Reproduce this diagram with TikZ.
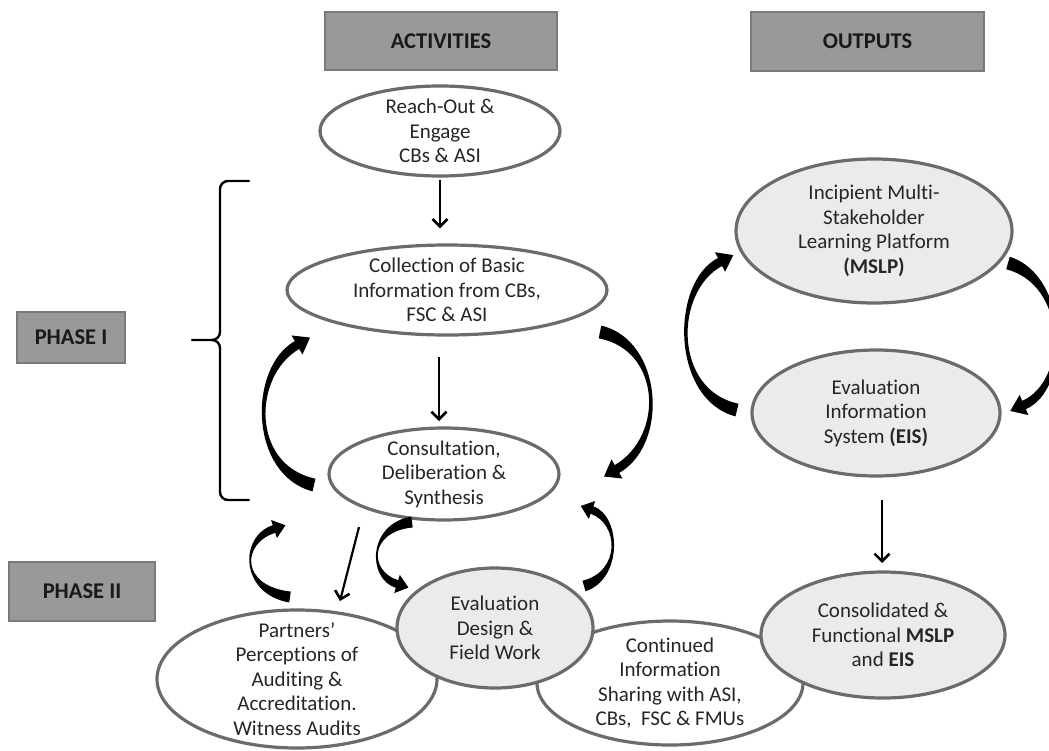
\documentclass[tikz,border=0pt]{standalone}
\usepackage{fontspec}
\setmainfont{Carlito}[Ligatures=NoCommon]
\usetikzlibrary{shapes.geometric,calc,arrows.meta}
\definecolor{hdrfill}{HTML}{999999}
\definecolor{hdrline}{HTML}{7A7A7A}
\definecolor{ellline}{HTML}{6B6B6B}
\definecolor{ellfill}{HTML}{EBEBEB}
\definecolor{txt}{HTML}{262626}
% tapered curved arrow: tail, ctrl1, ctrl2, head base, tail half-width, ctrl half-width, head-base half-width, head half-width, head length
\newcommand\mycarrow[9]{%
  \fill[black] ($(#1)!#5pt!90:(#2)$) .. controls ($(#2)!#6pt!-90:(#1)$) and ($(#3)!#6pt!90:(#4)$) ..
    ($(#4)!#7pt!-90:(#3)$) -- ($(#4)!#8pt!-90:(#3)$) -- ($(#4)!-#9pt!(#3)$) -- ($(#4)!#8pt!90:(#3)$) --
    ($(#4)!#7pt!90:(#3)$) .. controls ($(#3)!#6pt!-90:(#4)$) and ($(#2)!#6pt!90:(#1)$) ..
    ($(#1)!#5pt!-90:(#2)$) -- cycle;}
\begin{document}
\begin{tikzpicture}[x=1pt,y=-1pt,
  hdr/.style={draw=hdrline, line width=1.5pt, fill=hdrfill, inner sep=0pt,
    font=\fontsize{22.5}{26}\selectfont\bfseries, text=black!90},
  ell/.style={ellipse, draw=ellline, line width=3.2pt, fill=white, inner sep=0pt},
  ellg/.style={ell, fill=ellfill},
  elltext/.style={align=center, text=txt, inner sep=0pt, font=\fontsize{21}{24.5}\selectfont},
  thinarrow/.style={-{Straight Barb[length=7.5pt,width=15pt,line width=2.6pt]}, line width=2.6pt, black},
  bracestyle/.style={line width=2.4pt, black, line cap=round}]
\useasboundingbox (0,0) rectangle (1049,750);

% header boxes
\node[hdr, minimum width=232pt, minimum height=58pt] (act) at (441,41) {ACTIVITIES};
\node[hdr, minimum width=233pt, minimum height=59pt] (out) at (867.5,41.5) {OUTPUTS};
\node[hdr, minimum width=108pt, minimum height=51pt] (ph1) at (71,337.5) {PHASE I};
\node[hdr, minimum width=146pt, minimum height=59pt] (ph2) at (82,591.5) {PHASE II};

% brace
\draw[bracestyle] (249,181) -- (228,181) to[out=180,in=90] (220,189) -- (220,332)
  to[out=-90,in=0] (212,340) -- (192,340);
\draw[bracestyle] (212,340) to[out=0,in=90] (220,348) -- (220,492)
  to[out=-90,in=180] (228,500) -- (249,500);

% activity ellipses
\node[ell, minimum width=240pt, minimum height=90pt] (reach) at (440,131) {};
\node[elltext] (reachT) at (reach) {Reach-Out \&\\Engage\\CBs \& ASI};
\node[ell, minimum width=320pt, minimum height=90pt] (coll) at (447,290) {};
\node[elltext] (collT) at (coll) {Collection of Basic\\Information from CBs,\\FSC \& ASI};
\node[ell, minimum width=230pt, minimum height=92pt] (cons) at (444,474) {};
\node[elltext] (consT) at (cons) {Consultation,\\Deliberation \&\\Synthesis};

% outputs
\node[ellg, minimum width=276pt, minimum height=144pt] (mslp) at (874,231) {};
\node[elltext] (mslpT) at (mslp) {Incipient Multi-\\Stakeholder\\Learning Platform\\\textbf{(MSLP)}};
\node[ellg, minimum width=248pt, minimum height=126pt] (eis) at (876,413) {};
\node[elltext] (eisT) at (eis) {Evaluation\\Information\\System \textbf{(EIS)}};

% phase II ellipses
\node[ell, minimum width=280pt, minimum height=138pt] (part) at (297,679) {};
\node[elltext] (partT) at (part) {Partners’\\Perceptions of\\Auditing \&\\Accreditation.\\Witness Audits};
\node[ell, minimum width=266pt, minimum height=124pt] (cont) at (670,683) {};
\node[elltext] (contT) at (cont) {Continued\\Information\\Sharing with ASI,\\CBs,\ \ FSC \& FMUs};
\node[ellg, minimum width=196pt, minimum height=120pt] (evd) at (495,628) {};
\node[elltext] (evdT) at (evd) {Evaluation\\Design \&\\Field Work};
\node[ellg, minimum width=244pt, minimum height=126pt] (cfun) at (883,635) {};
\node[elltext] (cfunT) at (cfun) {Consolidated \&\\Functional \textbf{MSLP}\\and \textbf{EIS}};

% straight arrows
\draw[thinarrow, shorten <=2pt, shorten >=15pt] (reach.south) -- (reach.south |- coll.north);
\coordinate (c2s) at (439,357);
\coordinate (c2e) at (439,421);
\draw[thinarrow] (c2s) -- (c2e);
\coordinate (c3s) at (359,527);
\coordinate (c3e) at (340,601);
\draw[thinarrow, line width=2.2pt] (c3s) -- (c3e);
\coordinate (c4s) at (882,500);
\coordinate (c4e) at (882,563);
\draw[thinarrow] (c4s) -- (c4e);

% curved arrows
\mycarrow{314,485}{250,470}{250,372}{297,345}{6.5}{4.8}{4.5}{11}{15}
\mycarrow{600,332}{662,345}{667,440}{617,469}{6.5}{4.8}{4.5}{11}{15}
\mycarrow{737,410}{672,395}{672,287}{720,262}{6.5}{4.8}{4.5}{11}{15}
\mycarrow{1008,263}{1068,280}{1070,385}{1024,405}{6.5}{4.8}{4.5}{11}{15}
\mycarrow{290,597}{240,590}{240,540}{274,529}{5.5}{3.8}{4}{9.5}{12}
\mycarrow{412,522}{368,528}{368,575}{397,584}{5.5}{3.8}{4}{9.5}{12}
\mycarrow{584,586}{622,575}{620,520}{592,510}{5.5}{3.8}{4}{9.5}{12}
\end{tikzpicture}
\end{document}
